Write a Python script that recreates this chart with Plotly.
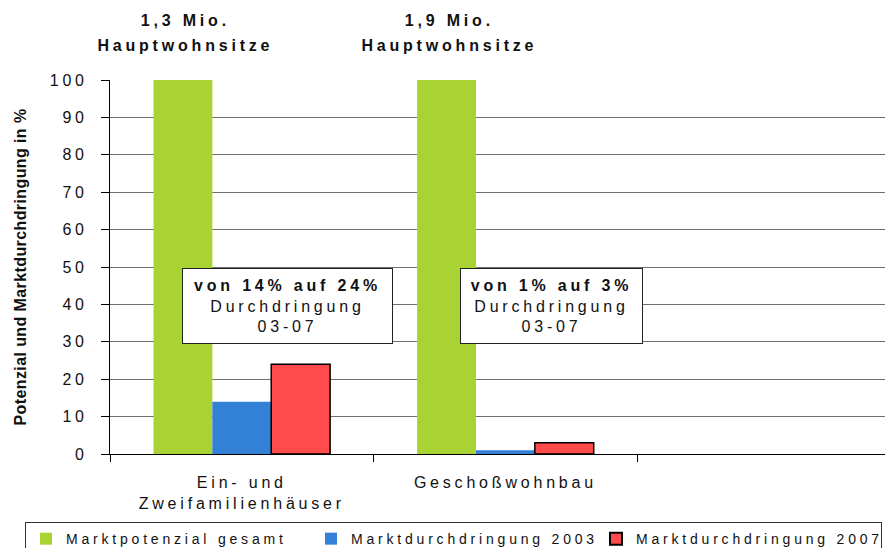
import plotly.graph_objects as go

categories = ["Ein- und<br>Zweifamilienhäuser", "Geschoßwohnbau", " "]
potenzial = [100, 100, None]
durchdringung_2003 = [14, 1, None]
durchdringung_2007 = [24, 3, None]
series_names = ["Marktpotenzial gesamt", "Marktdurchdringung 2003", "Marktdurchdringung 2007"]
top_labels = [["1,3 Mio.", "Hauptwohnsitze"], ["1,9 Mio.", "Hauptwohnsitze"]]
box_labels = ["<b>von 14% auf 24%</b><br>Durchdringung<br>03-07",
              "<b>von 1% auf 3%</b><br>Durchdringung<br>03-07"]

FONT = "Liberation Sans, Arial, sans-serif"

fig = go.Figure()
fig.add_trace(go.Bar(x=categories, y=potenzial, name=series_names[0],
                     marker=dict(color="#a9d332", line=dict(width=0))))
fig.add_trace(go.Bar(x=categories, y=durchdringung_2003, name=series_names[1],
                     marker=dict(color="#3381d6", line=dict(width=0))))
fig.add_trace(go.Bar(x=categories, y=durchdringung_2007, name=series_names[2],
                     marker=dict(color="#ff4b4b", line=dict(color="black", width=1.5))))

for i, lines in enumerate(top_labels):
    for j, t in enumerate(lines):
        fig.add_annotation(x=i - 0.214, y=(454 - (20 + 25 * j)) / 374, xref="x", yref="paper",
                           text="<b>" + t + "</b>", showarrow=False,
                           font=dict(family=FONT, size=16, color="#111"),
                           xanchor="center", yanchor="middle")

box_widths = [207, 179]
for i, t in enumerate(box_labels):
    fig.add_annotation(x=i + 0.175, y=39.6, xref="x", yref="y", text=t,
                       showarrow=False, font=dict(family=FONT, size=16, color="#111"),
                       xanchor="center", yanchor="middle", bgcolor="white",
                       bordercolor="#222", borderwidth=1, width=box_widths[i], height=72,
                       align="center")

fig.update_layout(
    width=885, height=548,
    margin=dict(l=110, r=0, t=80, b=94, autoexpand=False),
    paper_bgcolor="white", plot_bgcolor="white",
    barmode="group", bargap=0.33, bargroupgap=0,
    font=dict(family=FONT, size=15, color="#111"),
    showlegend=True,
    legend=dict(orientation="h", x=-0.1097, y=-0.182, xanchor="left", yanchor="top",
                bordercolor="#333", borderwidth=1, font=dict(family=FONT, size=14, color="#111"),
                entrywidth=240, entrywidthmode="pixels",
                itemsizing="constant", traceorder="normal"),
    xaxis=dict(type="category", categoryorder="array", categoryarray=categories,
               range=[-0.5, 2.44], showline=True, linecolor="black", linewidth=1,
               ticks="outside", ticklen=7, tickcolor="black", tickson="boundaries",
               ticklabelstandoff=14,
               showgrid=False, tickfont=dict(family=FONT, size=16, color="#111")),
    yaxis=dict(range=[0, 100], dtick=10, showline=True, linecolor="black", linewidth=1,
               ticks="outside", ticklen=8, tickcolor="black", ticklabelstandoff=10,
               showgrid=True, gridcolor="#707070", gridwidth=1,
               tickfont=dict(family=FONT, size=16, color="#111")),
)
fig.update_yaxes(title=dict(text="<b>Potenzial und Marktdurchdringung in %</b>",
                            font=dict(family=FONT, size=16, color="#111"), standoff=30))

post = """
var s = document.createElement('style');
s.textContent = 'html, body { margin: 0; padding: 0; overflow: hidden; } .js-plotly-plot text { letter-spacing: 3.8px; } .js-plotly-plot .g-ytitle text { letter-spacing: 0.4px; }';
document.head.appendChild(s);
"""

fig.write_html("out.html", post_script=post, config={"displayModeBar": False})
